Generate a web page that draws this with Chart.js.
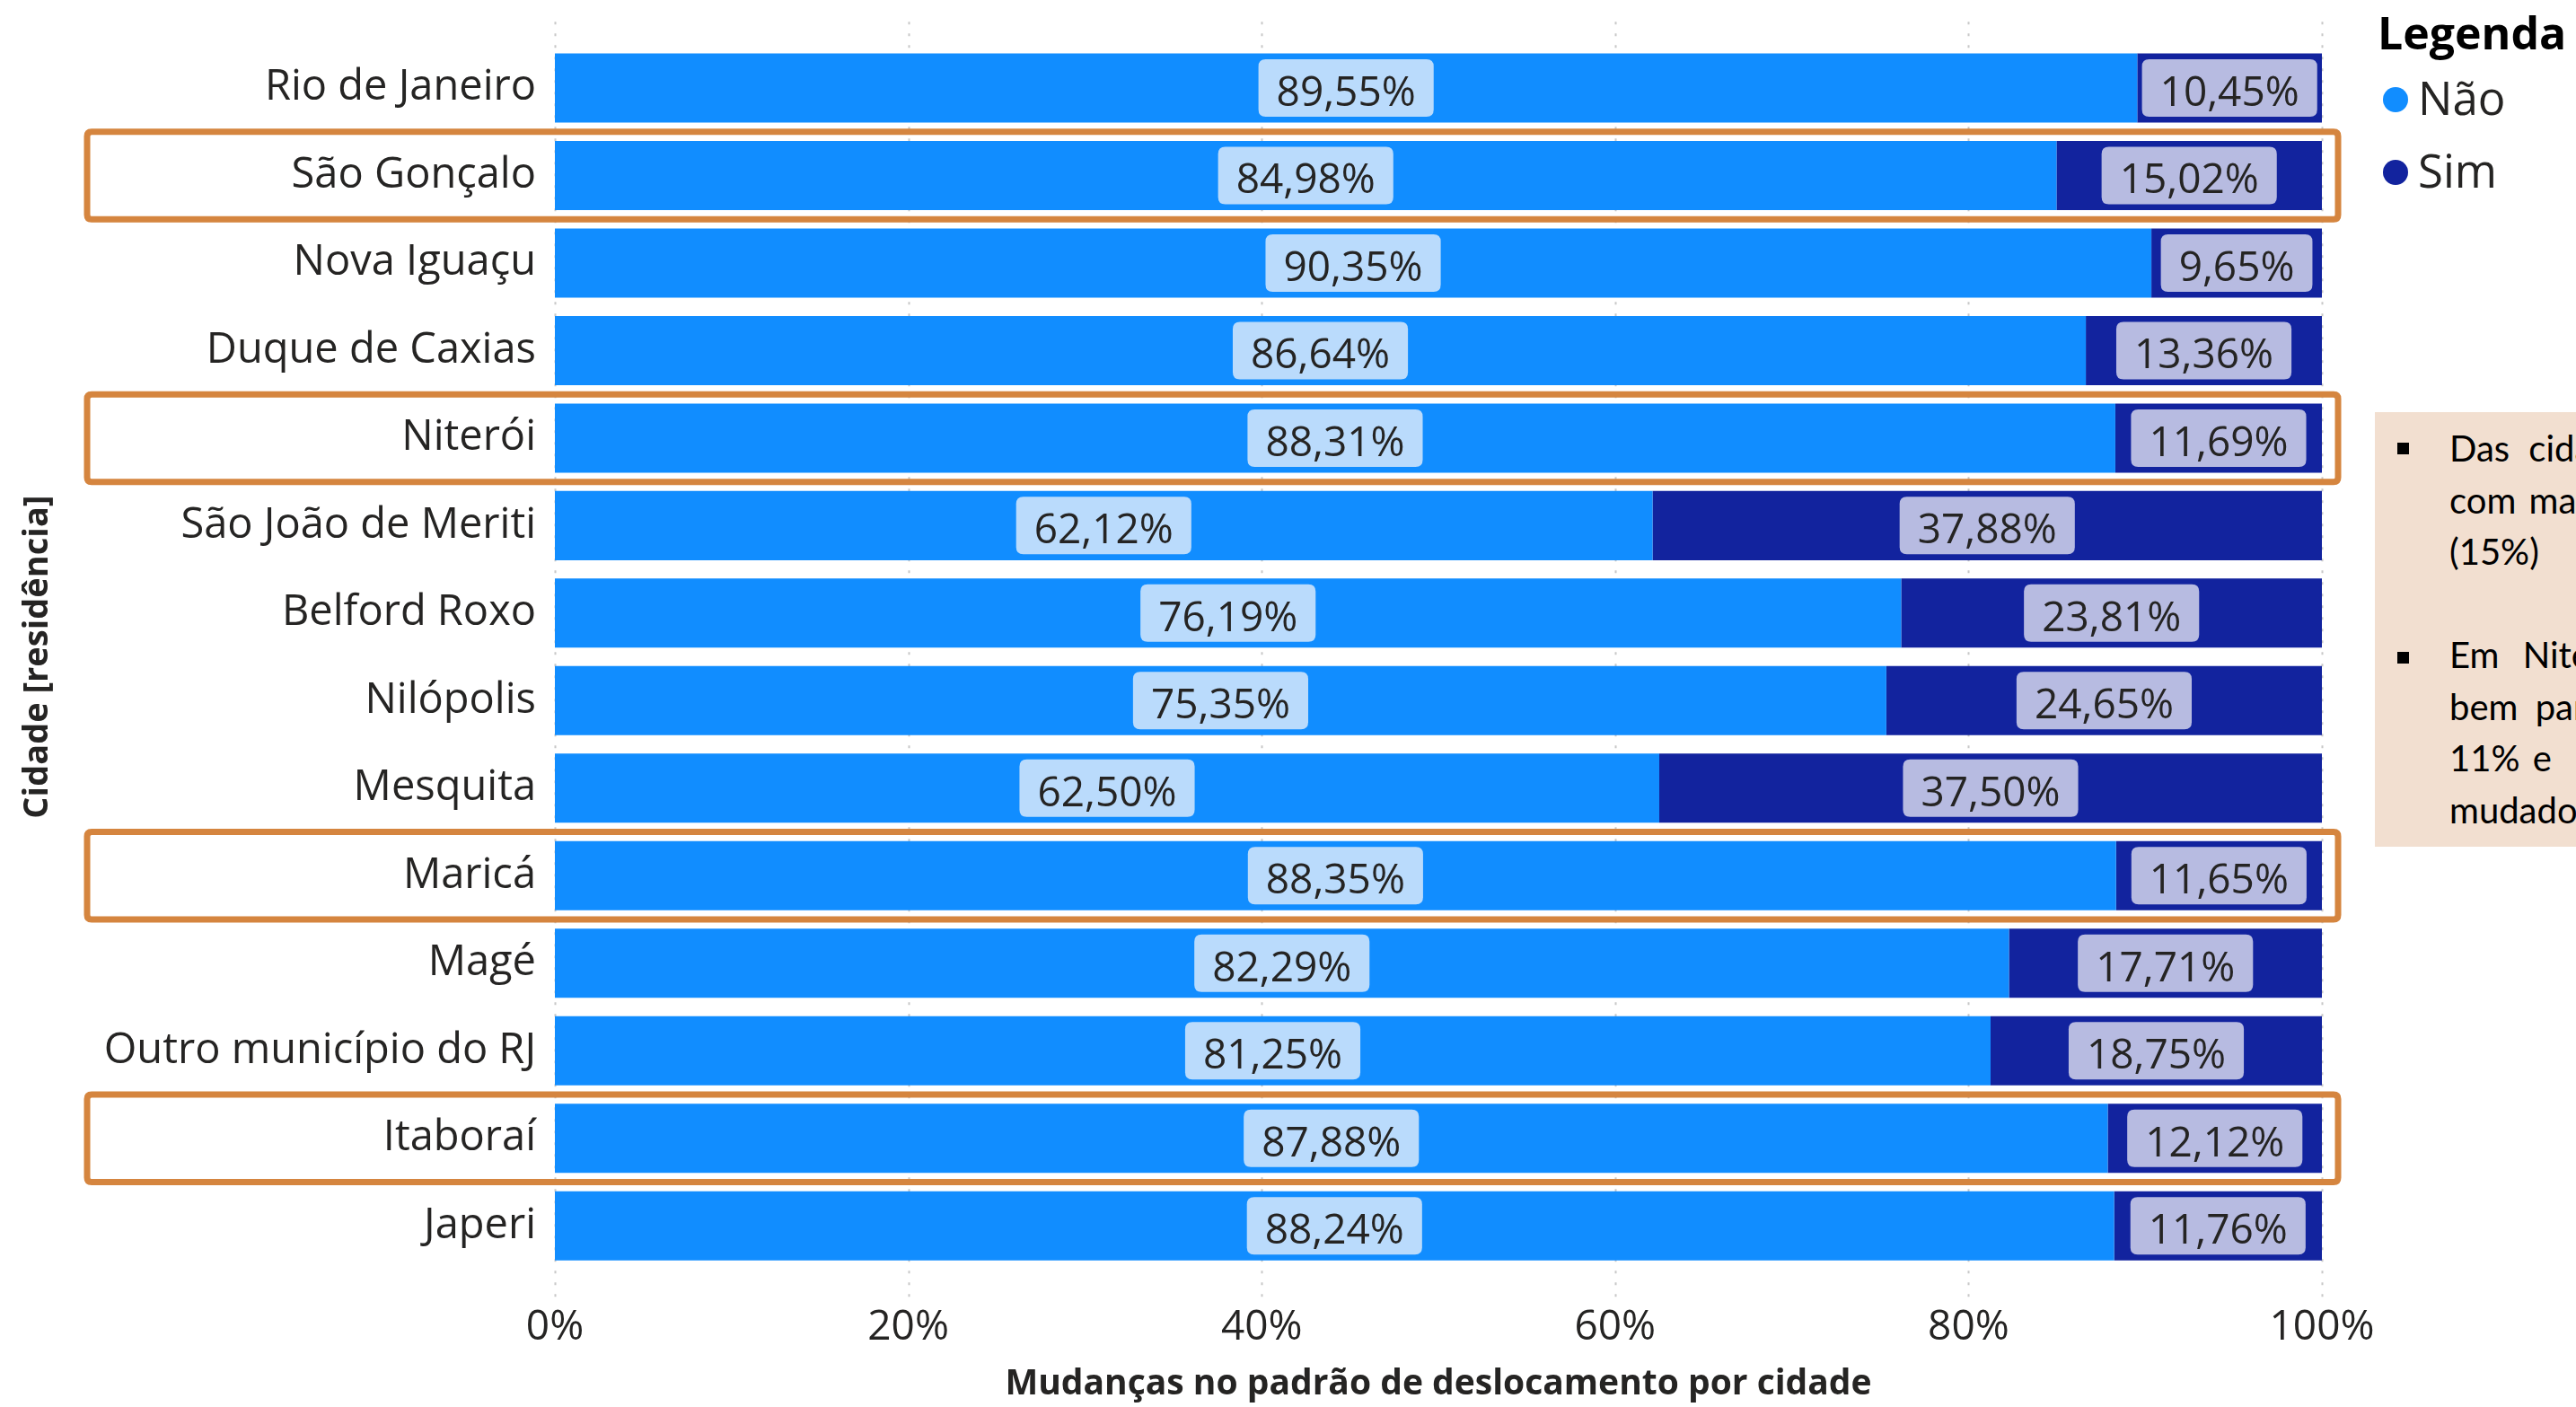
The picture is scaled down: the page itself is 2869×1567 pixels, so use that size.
<!DOCTYPE html>
<html lang="pt-BR">
<head>
<meta charset="utf-8">
<title>Mudanças no padrão de deslocamento por cidade</title>
<script src="https://cdn.jsdelivr.net/npm/chart.js@4.4.1/dist/chart.umd.min.js"></script>
<style>
  html, body { margin: 0; padding: 0; background: #ffffff; }
  #wrap { position: relative; width: 2869px; height: 1567px; overflow: hidden; }
  #grafico { position: absolute; left: 0; top: 0; }
  #nota {
    position: absolute; left: 2645px; top: 459px; width: 224px; height: 484px;
    background: #F2DFD0; overflow: hidden;
    font-family: Lato, "Open Sans", sans-serif; font-size: 40px; color: #000;
  }
  #nota .texto { position: absolute; left: 83px; top: 12px; line-height: 57.5px; white-space: nowrap; }
  #nota .marca { position: absolute; left: 25px; width: 13px; height: 13px; background: #000; }
</style>
</head>
<body>
<div id="wrap">
  <canvas id="grafico" width="2869" height="1567"></canvas>
  <div id="nota">
    <div class="marca" style="top:34px"></div>
    <div class="marca" style="top:267px"></div>
    <div class="texto">
      <div style="word-spacing:11px">Das cidades em destaque, São Gonçalo é a</div>
      <div style="word-spacing:4px">com maior proporção de mudanças</div>
      <div>(15%)</div>
      <div>&nbsp;</div>
      <div style="word-spacing:16px">Em Niterói, Maricá e Itaboraí o cenário é</div>
      <div style="word-spacing:9px">bem parecido, com percentuais entre</div>
      <div style="word-spacing:4px">11% e<span style="margin-left:60px">12% de pessoas com padrão</span></div>
      <div>mudado</div>
    </div>
  </div>
</div>
<script>
// Cidades de residência, na ordem em que aparecem no eixo
const cidades = [
  'Rio de Janeiro', 'São Gonçalo', 'Nova Iguaçu', 'Duque de Caxias', 'Niterói',
  'São João de Meriti', 'Belford Roxo', 'Nilópolis', 'Mesquita', 'Maricá',
  'Magé', 'Outro município do RJ', 'Itaboraí', 'Japeri'
];
// Percentual de respostas "Não" (sem mudança no padrão de deslocamento)
const valoresNao = [89.55, 84.98, 90.35, 86.64, 88.31, 62.12, 76.19, 75.35, 62.50, 88.35, 82.29, 81.25, 87.88, 88.24];
// Percentual de respostas "Sim" (com mudança no padrão de deslocamento)
const valoresSim = [10.45, 15.02, 9.65, 13.36, 11.69, 37.88, 23.81, 24.65, 37.50, 11.65, 17.71, 18.75, 12.12, 11.76];
// Marcas do eixo horizontal (%)
const marcasX = [0, 20, 40, 60, 80, 100];
// Cidades destacadas com moldura
const destaques = ['São Gonçalo', 'Niterói', 'Maricá', 'Itaboraí'];

const FONTE = '"Open Sans", "Noto Sans", sans-serif';
const COR_TEXTO = '#252423';
const COR_NAO = '#118DFF';
const COR_SIM = '#12239E';
const FUNDO_ROTULO = ['#BADBFC', '#B7BBE1'];

const fmt = v => v.toFixed(2).replace('.', ',') + '%';

function caixaArredondada(ctx, x, y, w, h, r) {
  ctx.beginPath();
  ctx.moveTo(x + r, y);
  ctx.lineTo(x + w - r, y);
  ctx.quadraticCurveTo(x + w, y, x + w, y + r);
  ctx.lineTo(x + w, y + h - r);
  ctx.quadraticCurveTo(x + w, y + h, x + w - r, y + h);
  ctx.lineTo(x + r, y + h);
  ctx.quadraticCurveTo(x, y + h, x, y + h - r);
  ctx.lineTo(x, y + r);
  ctx.quadraticCurveTo(x, y, x + r, y);
  ctx.closePath();
}

// Linhas de grade pontilhadas que passam um pouco além da área das barras
const gradePontilhada = {
  id: 'gradePontilhada',
  beforeDatasetsDraw(chart) {
    const { ctx, chartArea, scales: { x } } = chart;
    ctx.save();
    ctx.strokeStyle = '#C8C8C8';
    ctx.lineWidth = 2;
    ctx.setLineDash([3, 10]);
    marcasX.forEach(v => {
      const px = Math.round(x.getPixelForValue(v)) + 0.5;
      ctx.beginPath();
      ctx.moveTo(px, chartArea.top - 25);
      ctx.lineTo(px, chartArea.bottom + 31);
      ctx.stroke();
    });
    ctx.restore();
  }
};

// Rótulos de valor com fundo arredondado, centralizados em cada segmento
const rotulosValor = {
  id: 'rotulosValor',
  afterDatasetsDraw(chart) {
    const { ctx } = chart;
    ctx.save();
    ctx.font = '46px ' + FONTE;
    ctx.textAlign = 'center';
    ctx.textBaseline = 'alphabetic';
    chart.data.datasets.forEach((ds, di) => {
      chart.getDatasetMeta(di).data.forEach((bar, i) => {
        const txt = fmt(ds.data[i]);
        const cx = (bar.x + bar.base) / 2;
        const cy = bar.y;
        const w = ctx.measureText(txt).width + 40;
        const h = 64;
        ctx.fillStyle = FUNDO_ROTULO[di];
        caixaArredondada(ctx, cx - w / 2, cy - h / 2, w, h, 8);
        ctx.fill();
        ctx.fillStyle = COR_TEXTO;
        ctx.fillText(txt, cx, cy + 20);
      });
    });
    ctx.restore();
  }
};

// Molduras laranja em volta das cidades destacadas
const molduras = {
  id: 'molduras',
  afterDatasetsDraw(chart) {
    const { ctx, scales: { x, y } } = chart;
    const passo = y.getPixelForValue(1) - y.getPixelForValue(0);
    const esq = 97;
    const dir = x.getPixelForValue(100) + 18;
    ctx.save();
    ctx.strokeStyle = '#D5853F';
    ctx.lineWidth = 7;
    destaques.forEach(nome => {
      const i = cidades.indexOf(nome);
      const cy = y.getPixelForValue(i);
      caixaArredondada(ctx, esq, cy - passo / 2, dir - esq, passo, 5);
      ctx.stroke();
    });
    ctx.restore();
  }
};

// Legenda com título e marcadores circulares
const legendaLateral = {
  id: 'legendaLateral',
  afterDraw(chart) {
    const { ctx } = chart;
    ctx.save();
    ctx.fillStyle = '#000';
    ctx.font = 'bold 50px ' + FONTE;
    ctx.textAlign = 'left';
    ctx.textBaseline = 'alphabetic';
    ctx.fillText('Legenda', 2648, 55);
    ctx.font = '51px ' + FONTE;
    ctx.textBaseline = 'middle';
    const linhas = [111, 192];
    chart.data.datasets.forEach((ds, di) => {
      const cy = linhas[di];
      ctx.fillStyle = ds.backgroundColor;
      ctx.beginPath();
      ctx.arc(2668, cy, 14, 0, Math.PI * 2);
      ctx.fill();
      ctx.fillStyle = COR_TEXTO;
      ctx.fillText(ds.label, 2693, cy + 2);
    });
    ctx.restore();
  }
};

new Chart(document.getElementById('grafico'), {
  type: 'bar',
  data: {
    labels: cidades,
    datasets: [
      { label: 'Não', data: valoresNao, backgroundColor: COR_NAO },
      { label: 'Sim', data: valoresSim, backgroundColor: COR_SIM }
    ]
  },
  options: {
    indexAxis: 'y',
    responsive: false,
    animation: false,
    devicePixelRatio: 1,
    layout: { padding: { top: 47, right: 283, left: 0, bottom: 0 } },
    datasets: { bar: { categoryPercentage: 1, barPercentage: 0.79, borderWidth: 0 } },
    plugins: { legend: { display: false }, tooltip: { enabled: false }, title: { display: false } },
    scales: {
      x: {
        stacked: true,
        min: 0, max: 100,
        afterBuildTicks(s) { s.ticks = marcasX.map(v => ({ value: v })); },
        afterFit(s) { s.height = 153; },
        grid: { display: false, drawTicks: false },
        border: { display: false },
        ticks: {
          padding: 37,
          color: COR_TEXTO,
          font: { family: FONTE, size: 46 },
          callback: v => v + '%'
        },
        title: {
          display: true,
          text: 'Mudanças no padrão de deslocamento por cidade',
          color: COR_TEXTO,
          font: { family: FONTE, size: 39, weight: 'bold' },
          padding: { top: 0, bottom: 2 }
        }
      },
      y: {
        stacked: true,
        afterFit(s) { s.width = 618; },
        grid: { display: false, drawTicks: false },
        border: { display: false },
        ticks: {
          autoSkip: false,
          padding: 21,
          color: COR_TEXTO,
          font: { family: FONTE, size: 47 }
        },
        title: {
          display: true,
          text: 'Cidade [residência]',
          color: COR_TEXTO,
          font: { family: FONTE, size: 38, weight: 'bold' },
          padding: { top: 19, bottom: 0 }
        }
      }
    }
  },
  plugins: [gradePontilhada, rotulosValor, molduras, legendaLateral]
});
</script>
</body>
</html>
